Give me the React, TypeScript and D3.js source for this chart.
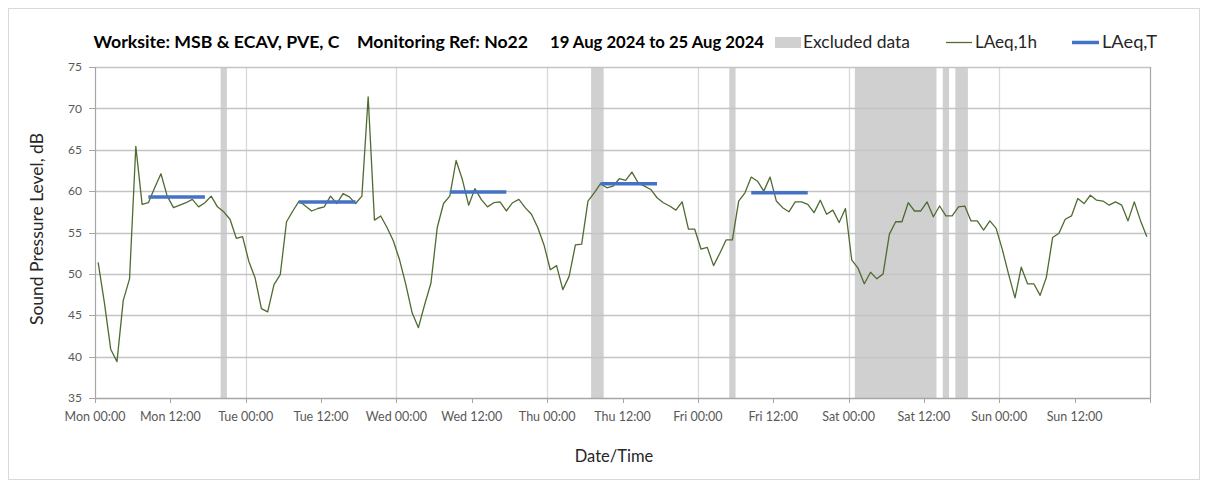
import React from "react";
import * as d3 from "d3";

// Hourly LAeq,1h values (dB), one array per day, hour 00..23
const mon = [51.4, 46.5, 40.9, 39.4, 46.8, 49.4, 65.4, 58.4, 58.6, 60.4, 62.1, 59.4, 58.0, 58.3, 58.6, 59.0, 58.1, 58.6, 59.4, 58.1, 57.5, 56.6, 54.3, 54.5];
const tue = [51.5, 49.5, 45.8, 45.4, 48.7, 49.9, 56.3, 57.6, 58.8, 58.2, 57.6, 57.9, 58.1, 59.4, 58.5, 59.7, 59.3, 58.5, 59.4, 71.4, 56.5, 57.0, 55.6, 54.0];
const wed = [51.7, 48.7, 45.3, 43.5, 46.3, 48.9, 55.6, 58.5, 59.4, 63.7, 61.4, 58.3, 60.3, 59.0, 58.1, 58.6, 58.7, 57.6, 58.6, 59.0, 58.0, 57.2, 55.6, 53.5];
const thu = [50.5, 51.0, 48.1, 49.7, 53.5, 53.6, 58.8, 59.8, 60.9, 60.4, 60.6, 61.5, 61.3, 62.3, 61.0, 60.6, 60.2, 59.2, 58.6, 58.2, 57.7, 58.7, 55.4, 55.4];
const fri = [53.0, 53.2, 51.0, 52.5, 54.1, 54.1, 58.8, 59.8, 61.7, 61.2, 60.0, 61.7, 58.8, 58.0, 57.5, 58.7, 58.7, 58.4, 57.4, 58.9, 57.2, 57.7, 56.2, 57.9];
const sat = [51.7, 50.7, 48.8, 50.2, 49.4, 50.0, 54.8, 56.3, 56.3, 58.6, 57.6, 57.6, 58.7, 56.9, 58.2, 57.0, 57.0, 58.1, 58.2, 56.4, 56.4, 55.3, 56.4, 55.5];
const sun = [52.9, 49.9, 47.1, 50.8, 48.8, 48.8, 47.4, 49.6, 54.4, 54.9, 56.6, 57.0, 59.1, 58.5, 59.5, 58.9, 58.8, 58.3, 58.7, 58.3, 56.4, 58.7, 56.4, 54.5];

// Excluded periods: [start hour, end hour] counted from Mon 00:00
const excludedStart = [20, 79, 101, 121, 135, 137];
const excludedEnd = [21, 81, 102, 134, 136, 139];

// LAeq,T (daytime 08:00-18:00) values per weekday
const laeqTDays = [0, 1, 2, 3, 4];
const laeqTValues = [59.3, 58.7, 59.9, 60.9, 59.8];
const laeqTFirstHour = 8;
const laeqTLastHour = 17;

const yTicks = [35, 40, 45, 50, 55, 60, 65, 70, 75];

const titleParts = ["Worksite: MSB & ECAV, PVE, C", "Monitoring Ref: No22", "19 Aug 2024 to 25 Aug 2024"];

const FONT = "Lato, 'Open Sans', sans-serif";

export default function App() {
  const start = new Date(2024, 7, 19, 0, 0);
  const end = new Date(2024, 7, 26, 0, 0);
  const hour = (h: number) => new Date(start.getTime() + h * 3600 * 1000);
  const x = d3.scaleTime().domain([start, end]).range([95, 1150]);
  const y = d3.scaleLinear().domain([35, 75]).range([398, 67]);

  const hourly = [...mon, ...tue, ...wed, ...thu, ...fri, ...sat, ...sun];
  const pts: [Date, number][] = hourly.map((v, i) => [hour(i + 0.5), v]);
  const line = d3
    .line<[Date, number]>()
    .x((d) => x(d[0]))
    .y((d) => y(d[1]));

  const xTicks = d3.timeHour.every(12)!.range(start, new Date(end.getTime() + 1));
  const dayTicks = d3.timeDay.range(new Date(start.getTime() + 1), end);
  const fmt = d3.timeFormat("%a %H:%M");

  const [x0, x1] = x.range();
  const [yb, yt] = y.range();

  return (
    <svg width={1208} height={488} style={{ position: "absolute", left: 0, top: 0, background: "#fff" }} fontFamily={FONT}>
      <rect x={8.5} y={8.5} width={1191} height={471} fill="#fff" stroke="#d9d9d9" />
      {/* excluded bands */}
      {excludedStart.map((s, i) => (
        <rect key={"ex" + i} x={x(hour(s))} y={yt} width={x(hour(excludedEnd[i])) - x(hour(s))} height={yb - yt} fill="#d0d0d0" />
      ))}
      {/* vertical gridlines at midnight */}
      {dayTicks.map((d, i) => (
        <line key={"vg" + i} x1={Math.round(x(d)) + 0.5} x2={Math.round(x(d)) + 0.5} y1={yt} y2={yb} stroke="#d9d9d9" strokeWidth={1.3} />
      ))}
      {/* horizontal gridlines */}
      {yTicks.map((t) => (
        <line key={"hg" + t} x1={x0} x2={x1} y1={Math.round(y(t)) + 0.5} y2={Math.round(y(t)) + 0.5} stroke={t === 35 ? "#a6a6a6" : "#c4c4c4"} strokeWidth={1.3} />
      ))}
      {/* right border */}
      <line x1={x1 + 0.5} x2={x1 + 0.5} y1={yt} y2={yb} stroke="#a6a6a6" strokeWidth={1.2} />
      {/* left axis */}
      <line x1={x0 + 0.5} x2={x0 + 0.5} y1={yt} y2={yb} stroke="#a6a6a6" strokeWidth={1.2} />
      {yTicks.map((t) => (
        <g key={"yt" + t}>
          <line x1={x0 - 6} x2={x0} y1={Math.round(y(t)) + 0.5} y2={Math.round(y(t)) + 0.5} stroke="#a6a6a6" />
          <text x={82} y={y(t)} dy="0.35em" textAnchor="end" fontSize={12} fill="#595959">
            {t}
          </text>
        </g>
      ))}
      {/* x ticks */}
      {xTicks.map((d, i) => (
        <g key={"xt" + i}>
          <line x1={Math.round(x(d)) + 0.5} x2={Math.round(x(d)) + 0.5} y1={yb} y2={yb + 5} stroke="#a6a6a6" />
          {i < xTicks.length - 1 && (
            <text x={x(d)} y={421} textAnchor="middle" fontSize={12.5} fill="#595959">
              {fmt(d)}
            </text>
          )}
        </g>
      ))}
      {/* LAeq,1h line */}
      <path d={line(pts) || ""} fill="none" stroke="#4f6b31" strokeWidth={1.3} strokeLinejoin="round" />
      {/* LAeq,T lines */}
      {laeqTDays.map((day, i) => (
        <line
          key={"lt" + i}
          x1={x(hour(day * 24 + laeqTFirstHour + 0.5))}
          x2={x(hour(day * 24 + laeqTLastHour + 0.5))}
          y1={y(laeqTValues[i])}
          y2={y(laeqTValues[i])}
          stroke="#4472c4"
          strokeWidth={3.5}
        />
      ))}
      {/* title */}
      <text x={93.5} y={48} fontSize={17} fontWeight="bold" fill="#000" textLength={246} lengthAdjust="spacingAndGlyphs">
        {titleParts[0]}
      </text>
      <text x={357} y={48} fontSize={17} fontWeight="bold" fill="#000" textLength={171} lengthAdjust="spacingAndGlyphs">
        {titleParts[1]}
      </text>
      <text x={550} y={48} fontSize={17} fontWeight="bold" fill="#000" textLength={214} lengthAdjust="spacingAndGlyphs">
        {titleParts[2]}
      </text>
      {/* legend */}
      <rect x={775} y={37} width={26} height={11} fill="#d0d0d0" />
      <text x={803} y={48} fontSize={17} fill="#262626" textLength={107} lengthAdjust="spacingAndGlyphs">
        Excluded data
      </text>
      <line x1={946} x2={972} y1={42.5} y2={42.5} stroke="#4f6b31" strokeWidth={1.3} />
      <text x={975} y={48} fontSize={17} fill="#262626" textLength={62} lengthAdjust="spacingAndGlyphs">
        LAeq,1h
      </text>
      <line x1={1072} x2={1099} y1={42.5} y2={42.5} stroke="#4472c4" strokeWidth={3.5} />
      <text x={1102} y={48} fontSize={17} fill="#262626" textLength={55} lengthAdjust="spacingAndGlyphs">
        LAeq,T
      </text>
      {/* axis titles */}
      <text transform={`translate(43,229) rotate(-90)`} textAnchor="middle" fontSize={16.5} fill="#262626" textLength={192} lengthAdjust="spacingAndGlyphs">
        Sound Pressure Level, dB
      </text>
      <text x={614} y={462} textAnchor="middle" fontSize={16.5} fill="#262626">
        Date/Time
      </text>
    </svg>
  );
}
